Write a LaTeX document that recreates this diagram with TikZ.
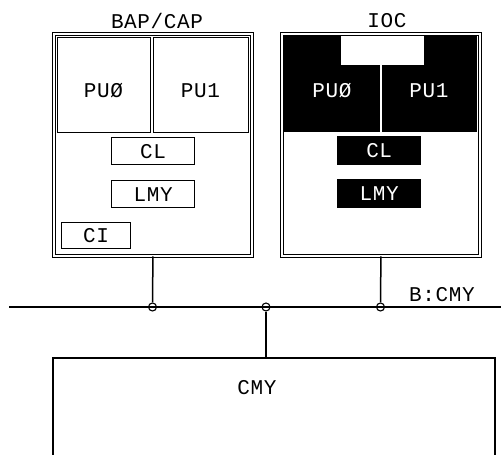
\documentclass[tikz,border=0pt]{standalone}
\usepackage{fontspec}
\setmonofont{Liberation Mono}[LetterSpace=3]
\begin{document}
\begin{tikzpicture}[x=1pt,y=-1pt,
  lbl/.style={font=\ttfamily\fontsize{21}{21}\selectfont, inner sep=0pt},
  box/.style={draw, line width=1.2pt, inner sep=0pt, anchor=north west},
  outerbox/.style={draw, double, double distance=1.6pt, line width=0.9pt, inner sep=0pt, anchor=north west},
  blk/.style={fill=black, inner sep=0pt, anchor=north west},
  jn/.style={circle, draw, line width=1.1pt, minimum size=8pt, inner sep=0pt},
  wire/.style={line width=1.5pt}]
\useasboundingbox (0,0) rectangle (501,455);
% left unit
\node[outerbox, minimum width=198pt, minimum height=222pt] (bap) at (53.5,33.5) {};
\node[box, minimum width=93pt, minimum height=95pt] (pu0l) at (57,37) {};
\node[box, minimum width=95pt, minimum height=95pt] (pu1l) at (153,37) {};
\node[lbl] (pu0lt) at (103.5,91) {PUØ};
\node[lbl] (pu1lt) at (200.5,91) {PU1};
\node[box, lbl, draw, line width=1.2pt, anchor=north west, minimum width=83pt, minimum height=27pt] (cll) at (111,137) {CL};
\node[box, lbl, draw, line width=1.2pt, anchor=north west, minimum width=83pt, minimum height=27pt] (lmyl) at (111,180) {LMY};
\node[box, lbl, draw, line width=1.2pt, anchor=north west, minimum width=69pt, minimum height=26pt] (ci) at (61,222) {CI};
\node[lbl] (baplbl) at (157,21) {BAP/CAP};
% right unit
\node[outerbox, minimum width=198pt, minimum height=222pt] (ioc) at (281.5,33.5) {};
\node[blk, minimum width=96pt, minimum height=96pt] (pu0r) at (284,36) {};
\node[blk, minimum width=95.5pt, minimum height=96pt] (pu1r) at (381.5,36) {};
\fill[white] (341,35.6) rectangle (424,65);
\node[lbl, text=white] (pu0rt) at (332,91) {PUØ};
\node[lbl, text=white] (pu1rt) at (429,91) {PU1};
\node[blk, lbl, anchor=north west, text=white, minimum width=84pt, minimum height=29pt] (clr) at (337,136) {CL};
\node[blk, lbl, anchor=north west, text=white, minimum width=84pt, minimum height=29pt] (lmyr) at (337,179) {LMY};
\node[lbl] (ioclbl) at (387,21) {IOC};
% bus
\coordinate (busL) at (9,307);
\coordinate (busR) at (501,307);
\draw[wire] (busL) -- (busR);
\node[jn] (j1) at (152.5,307) {};
\node[jn] (j2) at (266,307) {};
\node[jn] (j3) at (380.5,307) {};
\draw[wire] (bap.south) -- (j1.north);
\draw[wire] (ioc.south) -- (j3.north);
\node[lbl] (buslbl) at (442,295) {B:CMY};
% memory
\node[box, line width=1.5pt, minimum width=442pt, minimum height=130pt] (cmy) at (52,357) {};
\draw[wire] (j2.south) -- (cmy.north -| j2);
\node[lbl] (cmylbl) at (257,388) {CMY};
\end{tikzpicture}
\end{document}
